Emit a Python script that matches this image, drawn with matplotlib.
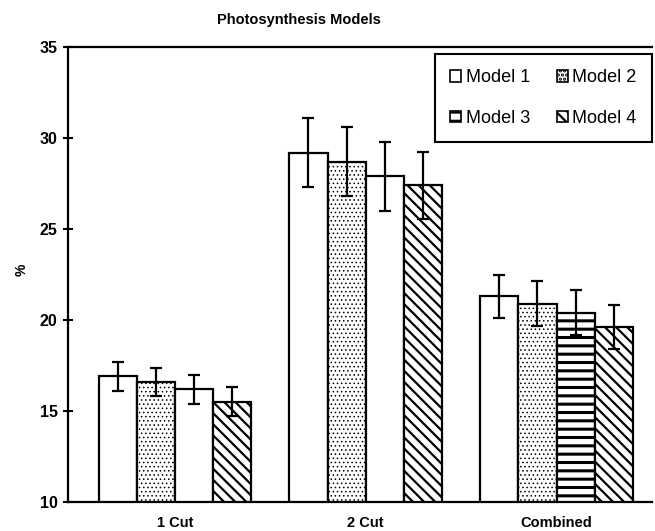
import matplotlib
matplotlib.use('Agg')
import matplotlib.pyplot as plt
import numpy as np
from matplotlib.patches import Patch

# data
groups = ['1 Cut', '2 Cut', 'Combined']
models = ['Model 1', 'Model 2', 'Model 3', 'Model 4']
means = [[16.9, 29.2, 21.3],
         [16.6, 28.7, 20.9],
         [16.2, 27.9, 20.4],
         [15.5, 27.4, 19.6]]
errs = [[0.8, 1.9, 1.2],
        [0.75, 1.9, 1.25],
        [0.8, 1.9, 1.25],
        [0.8, 1.85, 1.2]]

# hatch of each bar (model 3 shows no pattern in the first two groups)
hatches = [['', '', ''],
           ['....', '....', '....'],
           ['', '', '--'],
           ['\\\\\\', '\\\\\\', '\\\\\\']]
legend_hatch = ['', '....', '--', '\\\\\\']
hatch_lw = [1.0, 0.6, 2.2, 1.6]

plt.rcParams['font.family'] = ['Liberation Sans', 'DejaVu Sans']
plt.rcParams['hatch.linewidth'] = 1.6
plt.rcParams['hatch.color'] = 'black'

fig = plt.figure(figsize=(6.55, 5.31), dpi=100)
ax = fig.add_axes([0.1038, 0.0546, 0.8916, 0.8569])

x = np.arange(len(groups))
w = 0.2
for i in range(len(models)):
    xs = x + (i - 1.5) * w
    bars = ax.bar(xs, means[i], w, bottom=0, color='white', edgecolor='black',
                  linewidth=1.6, zorder=2)
    for b, h in zip(bars, hatches[i]):
        b.set_hatch(h)
        if hasattr(b, 'set_hatch_linewidth'):
            b.set_hatch_linewidth(hatch_lw[i])
    ax.errorbar(xs, means[i], yerr=errs[i], fmt='none', ecolor='black',
                elinewidth=1.6, capsize=4.5, capthick=1.6, zorder=3)

# legend filled row by row: Model 1, Model 2 / Model 3, Model 4
handles = []
for h, lw in zip(legend_hatch, hatch_lw):
    p = Patch(facecolor='white', edgecolor='black', hatch=h, linewidth=1.2)
    if hasattr(p, 'set_hatch_linewidth'):
        p.set_hatch_linewidth(lw)
    handles.append(p)
order = [0, 2, 1, 3]
leg = ax.legend([handles[k] for k in order], [models[k] for k in order],
                ncol=2, loc='upper right', bbox_to_anchor=(1.0, 0.985),
                borderaxespad=0, fontsize=13,
                handlelength=0.6, handleheight=0.6, handletextpad=0.25,
                labelspacing=1.3, columnspacing=1.5, borderpad=0.85,
                fancybox=False, framealpha=1, edgecolor='black')
leg.get_frame().set_linewidth(1.5)

ax.set_ylim(10, 35)
ax.set_xlim(-0.56, 2.5)
ax.set_yticks([10, 15, 20, 25, 30, 35])
ax.set_xticks(x)
ax.set_xticklabels(groups, fontsize=10.5, fontweight='bold')
ax.tick_params(axis='x', length=0, pad=10)
ax.tick_params(axis='y', direction='inout', length=7, width=1.5, labelsize=11.5, pad=4)
for t in ax.get_yticklabels():
    t.set_fontweight('bold')
ax.spines['right'].set_visible(False)
for s in ['left', 'bottom', 'top']:
    ax.spines[s].set_linewidth(1.6)

fig.text(22 / 655, 1 - 270 / 531, '%', fontsize=10, fontweight='bold',
         rotation=90, ha='center', va='center')
fig.text(299 / 655, 1 - 20 / 531, 'Photosynthesis Models', fontsize=10.5,
         fontweight='bold', ha='center', va='center')

fig.savefig('out.png', dpi=100)
